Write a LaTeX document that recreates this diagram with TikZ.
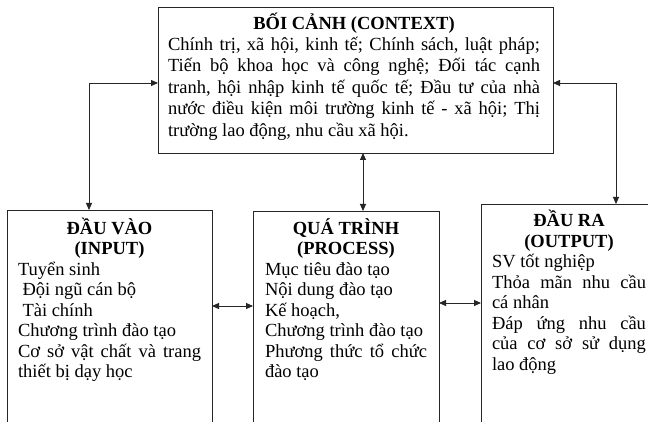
\documentclass[tikz,border=0pt]{standalone}
\usepackage{fontspec}
\setmainfont{Liberation Serif}
\usetikzlibrary{arrows.meta}
\newcommand{\jline}[1]{\makebox[\linewidth][s]{\spaceskip=0pt\xspaceskip=0pt\relax #1}}
\newcommand{\ctitle}[1]{\makebox[\linewidth][c]{\bfseries #1}}
\begin{document}
\begin{tikzpicture}[x=1pt,y=-1pt,
  box/.style={draw=black!85,line width=0.9pt,inner sep=0pt,outer sep=0pt},
  txt/.style={inner sep=0pt,outer sep=0pt,align=flush left,anchor=base west,font=\fontsize{18.5}{20.5}\selectfont\frenchspacing},
  conn/.style={line width=0.9pt,draw=black!85,{Triangle[length=7pt,width=6pt]}-{Triangle[length=7pt,width=6pt]}}]
\useasboundingbox (0,0) rectangle (648,422);
\clip (0,0) rectangle (648,422);
\fill[white] (0,0) rectangle (648,422);
% boxes
\node[box,minimum width=395pt,minimum height=146pt] (ctx) at (355.5,80) {};
\node[box,minimum width=205pt,minimum height=240pt] (inp) at (109.5,330) {};
\node[box,minimum width=186pt,minimum height=239pt] (proc) at (346,330.5) {};
\node[box,minimum width=179pt,minimum height=246pt] (out) at (570.5,327) {};
% texts
\node[txt,text width=372pt,font=\fontsize{18.5}{21.5}\selectfont\frenchspacing] (ctxt) at (168,30) {%
\ctitle{BỐI CẢNH (CONTEXT)}\\[-1pt]
\jline{Chính trị, xã hội, kinh tế; Chính sách, luật pháp;}\\
\jline{Tiến bộ khoa học và công nghệ; Đối tác cạnh}\\
\jline{tranh, hội nhập kinh tế quốc tế; Đầu tư của nhà}\\
\jline{nước điều kiện môi trường kinh tế - xã hội; Thị}\\
trường lao động, nhu cầu xã hội.};
\node[txt,text width=183pt] (inpt) at (18,234.5) {%
\ctitle{ĐẦU VÀO}\\
\ctitle{(INPUT)}\\
Tuyển sinh\\
\hspace*{4.5pt}Đội ngũ cán bộ\\
\hspace*{4.5pt}Tài chính\\
Chương trình đào tạo\\
\jline{Cơ sở vật chất và trang}\\
thiết bị dạy học};
\node[txt,text width=162pt] (proct) at (265,234.5) {%
\ctitle{QUÁ TRÌNH}\\
\ctitle{(PROCESS)}\\
Mục tiêu đào tạo\\
Nội dung đào tạo\\
Kế hoạch,\\
Chương trình đào tạo\\
\jline{Phương thức tổ chức}\\
đào tạo};
\node[txt,text width=154pt] (outt) at (492,227) {%
\ctitle{ĐẦU RA}\\
\ctitle{(OUTPUT)}\\
SV tốt nghiệp\\
\jline{Thỏa mãn nhu cầu}\\
cá nhân\\
\jline{Đáp ứng nhu cầu}\\
\jline{của cơ sở sử dụng}\\
lao động};
% connectors
\draw[conn] (ctx.west |- 0,83) -| (inp.north -| 89,0);
\draw[conn] (ctx.east |- 0,83) -| (out.north -| 616,0);
\draw[conn] (ctx.south -| 363,0) -- (proc.north -| 363,0);
\draw[conn] (inp.east |- 0,306) -- (proc.west |- 0,306);
\draw[conn] (proc.east |- 0,303) -- (out.west |- 0,303);
\end{tikzpicture}
\end{document}
